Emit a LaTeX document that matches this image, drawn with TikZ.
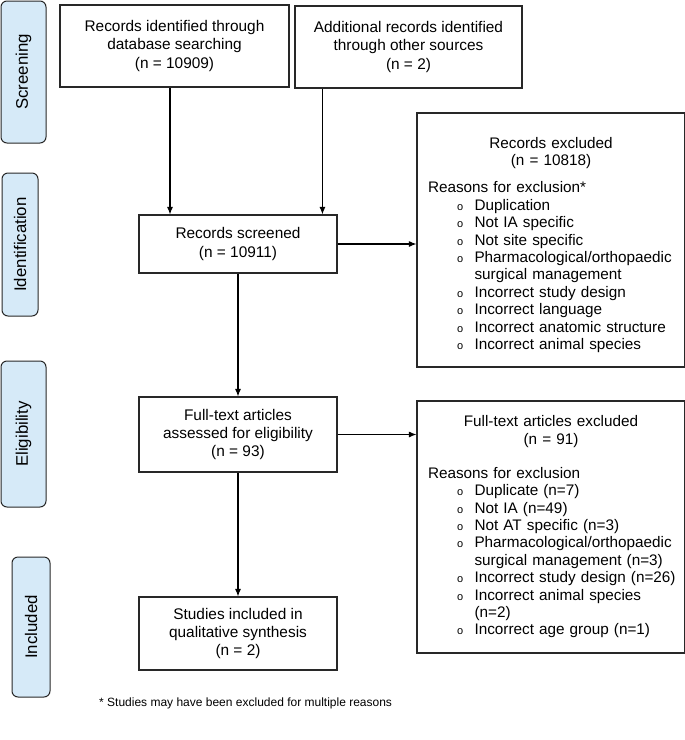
\documentclass[tikz,border=0pt]{standalone}
\usepackage{fontspec}
\setmainfont{Liberation Sans}
\usetikzlibrary{arrows.meta}
\definecolor{sidefill}{RGB}{214,234,248}
\definecolor{linec}{RGB}{40,40,40}
\newcommand{\itm}[1]{\hspace*{29pt}\makebox[17.5pt][l]{\fontsize{11}{11}\selectfont o}\mbox{#1}\par}
\newcommand{\itmc}[1]{\hspace*{46.5pt}\mbox{#1}\par}
\begin{document}
\begin{tikzpicture}[x=1pt,y=-1pt,
  box/.style={draw=linec, line width=1.1pt, align=center, font=\fontsize{15.4}{18.3}\selectfont, inner sep=0pt},
  listbox/.style={draw=linec, line width=1.1pt, align=left, text width=246pt, inner xsep=11pt, inner ysep=0pt, font=\fontsize{15.3}{17.4}\selectfont},
  side/.style={draw=linec, fill=sidefill, rounded corners=6pt, line width=1pt, font=\fontsize{16.8}{18}\selectfont, rotate=90},
  arr/.style={-{Latex[length=7.5pt,width=6pt]}, line width=1.1pt, draw=black}]
\useasboundingbox (0,0) rectangle (685,740);

% side labels
\node[side, minimum width=142pt, minimum height=45pt] (s1) at (23.5,72) {Screening};
\node[side, minimum width=143pt, minimum height=36pt] (s2) at (20,244.5) {Identification};
\node[side, minimum width=146pt, minimum height=45pt] (s3) at (23.5,434) {Eligibility};
\node[side, minimum width=140pt, minimum height=38pt] (s4) at (31,627) {Included};

% main boxes
\node[box, minimum width=229pt, minimum height=82pt] (b1) at (174.5,46) {Records identified through\\database searching\\(n = 10909)};
\node[box, minimum width=227pt, minimum height=82pt] (b2) at (408.5,47) {Additional records identified\\through other sources\\(n = 2)};
\node[box, minimum width=198pt, minimum height=58pt] (sc) at (238,244) {Records screened\\(n = 10911)};
\node[box, minimum width=198pt, minimum height=75pt] (ft) at (238,434.5) {Full-text articles\\assessed for eligibility\\(n = 93)};
\node[box, minimum width=198pt, minimum height=73pt] (inc) at (238,633.5) {Studies included in\\qualitative synthesis\\(n = 2)};

\node[listbox, minimum height=254pt] (rex) at (551,240) {%
{\centering\rule{0pt}{21pt}Records excluded\\(n = 10818)\par}
\vspace{9.6pt}
Reasons for exclusion*\par
\itm{Duplication}
\itm{Not IA specific}
\itm{Not site specific}
\itm{Pharmacological/orthopaedic}
\itmc{surgical management}
\itm{Incorrect study design}
\itm{Incorrect language}
\itm{Incorrect anatomic structure}
\itm{Incorrect animal species}};

\node[listbox, minimum height=252pt] (fex) at (551,527) {%
{\centering Full-text articles excluded\\(n = 91)\par}
\vspace{16.6pt}
Reasons for exclusion\par
\itm{Duplicate (n=7)}
\itm{Not IA (n=49)}
\itm{Not AT specific (n=3)}
\itm{Pharmacological/orthopaedic}
\itmc{surgical management (n=3)}
\itm{Incorrect study design (n=26)}
\itm{Incorrect animal species}
\itmc{(n=2)}
\itm{Incorrect age group (n=1)}};

\node[anchor=west, font=\fontsize{12}{14}\selectfont, inner sep=0pt] (fn) at (99,703) {* Studies may have been excluded for multiple reasons};

% connectors
\draw[arr] ([xshift=-4.5pt]b1.south) -- ([xshift=-4.5pt]b1.south |- sc.north);
\draw[arr] ([xshift=28pt]b2.south west) -- ([xshift=28pt]b2.south west |- sc.north);
\draw[arr] (sc.east) -- (sc.east -| rex.west);
\draw[arr] (sc.south) -- (ft.north);
\draw[arr] (ft.east) -- (ft.east -| fex.west);
\draw[arr] (ft.south) -- (inc.north);
\end{tikzpicture}
\end{document}
